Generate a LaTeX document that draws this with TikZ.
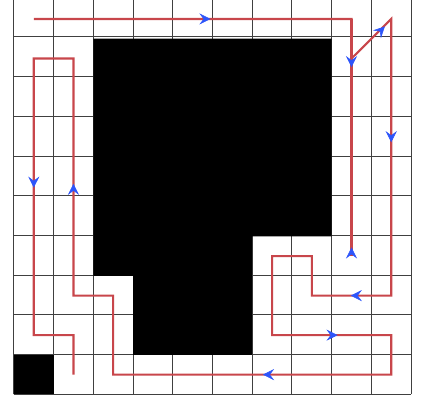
\documentclass[tikz,border=0pt]{standalone}
\usetikzlibrary{arrows.meta, decorations.markings}

\definecolor{pathred}{RGB}{200,70,75}
\definecolor{tipblue}{RGB}{45,85,250}

\begin{document}
\begin{tikzpicture}[x=1cm, y=0.995cm]

% Styles for grid, obstacles, path and arrow heads
\tikzset{gridline/.style={line width=0.7pt, draw=black!75},
        obstacle/.style={fill=black},
        coverpath/.style={line width=1.5pt, draw=pathred, line join=miter},
        bluehead/.style={postaction={decorate},
            decoration={markings, mark=at position 1 with
            {\arrow[tipblue]{Stealth[length=8pt, width=8pt, inset=3pt]}}}}
        }

\useasboundingbox (-0.35,-0.19) rectangle (10.35,9.98);

% Grid of 10 x 10 cells
\draw[gridline] (0,0) grid (10,10);

% Obstacles
\fill[obstacle] (2,9) -- (8,9) -- (8,4) -- (6,4) -- (6,1) -- (3,1) -- (3,3) -- (2,3) -- cycle;
\fill[obstacle] (0,0) rectangle (1,1); % Bottom-left cell

% Return leg in column 8
\draw[coverpath] (8.5,9.5) -- (8.5,3.5);

% Coverage path through cell centres
\draw[coverpath] (0.5,9.5) -- (8.5,9.5) -- (8.5,8.5) -- (9.5,9.5) -- (9.5,2.5)
    -- (7.5,2.5) -- (7.5,3.5) -- (6.5,3.5) -- (6.5,1.5) -- (9.5,1.5) -- (9.5,0.5)
    -- (2.5,0.5) -- (2.5,2.5) -- (1.5,2.5) -- (1.5,8.5) -- (0.5,8.5) -- (0.5,1.5)
    -- (1.5,1.5) -- (1.5,0.5);

% Arrow heads: tip x / tip y / direction
\foreach \x/\y/\a in {4.95/9.5/0, 8.5/8.28/-90, 9.34/9.31/45, 9.5/6.38/-90,
        8.5/3.72/90, 8.48/2.5/180, 8.15/1.5/0, 6.27/0.5/180,
        0.5/5.23/-90, 1.5/5.33/90}
    \path[bluehead] (\x,\y) ++(\a+180:0.05) -- +(\a:0.05);

\end{tikzpicture}
\end{document}
